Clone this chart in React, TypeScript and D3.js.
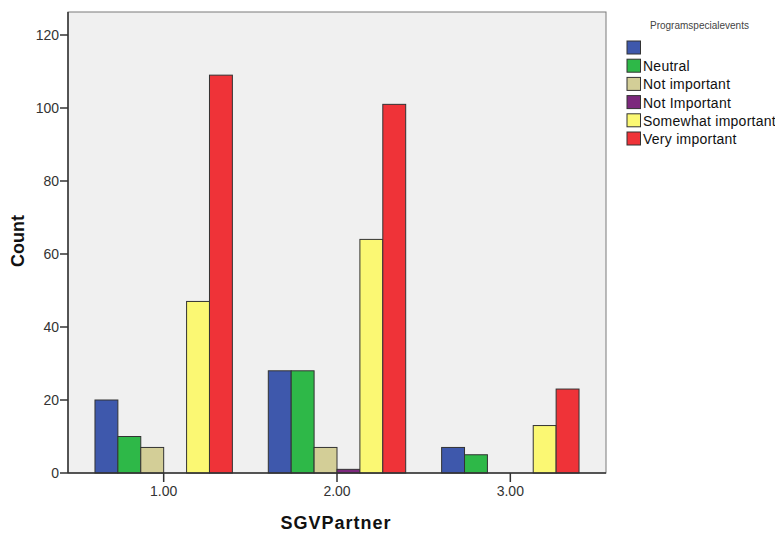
import React from "react";
import * as d3 from "d3";

const categories = ["1.00", "2.00", "3.00"];
const seriesNames = ["", "Neutral", "Not important", "Not Important", "Somewhat important", "Very important"];
const seriesColors = ["#3E58AC", "#2EB848", "#D3CE97", "#7C287D", "#FBF873", "#EF3338"];
// values[series][category]
const blankVals = [20, 28, 7];
const neutralVals = [10, 28, 5];
const notImportantVals = [7, 7, 0];
const notImportant2Vals = [0, 1, 0];
const somewhatVals = [47, 64, 13];
const veryVals = [109, 101, 23];
const seriesValues = [blankVals, neutralVals, notImportantVals, notImportant2Vals, somewhatVals, veryVals];
const yTicks = [0, 20, 40, 60, 80, 100, 120];
const legendTitle = "Programspecialevents";
const xTitle = "SGVPartner";
const yTitle = "Count";

const W = 775, H = 536;
const plot = { left: 68, right: 606, top: 12, bottom: 473 };

export default function App() {
  const x = d3.scaleLinear().domain([0.448, 3.552]).range([plot.left, plot.right]);
  const y = d3.scaleLinear().domain([0, 120]).range([plot.bottom, 35]);
  const barW = 22.9;
  const n = seriesNames.length;
  const font = "'Liberation Sans', Arial, sans-serif";

  return (
    <svg width={W} height={H} style={{ position: "absolute", left: 0, top: 0, background: "#fff" }} fontFamily={font}>
      <rect x={plot.left} y={plot.top} width={plot.right - plot.left} height={plot.bottom - plot.top} fill="#F0F0F0" stroke="#7a7a7a" strokeWidth={1} />
      {categories.map((c, ci) => {
        const cx = x(ci + 1);
        const start = cx - (n * barW) / 2;
        return seriesValues.map((vals, si) => {
          const v = vals[ci];
          if (!v) return null;
          return (
            <rect key={`${ci}-${si}`} x={start + si * barW} y={y(v)} width={barW} height={y(0) - y(v)}
              fill={seriesColors[si]} stroke="#333" strokeWidth={1} />
          );
        });
      })}
      {/* axes */}
      <line x1={plot.left} x2={plot.left} y1={plot.top} y2={plot.bottom} stroke="#333" strokeWidth={1.5} />
      <line x1={plot.left} x2={plot.right} y1={plot.bottom} y2={plot.bottom} stroke="#333" strokeWidth={1.5} />
      {yTicks.map((t) => (
        <g key={t}>
          <line x1={plot.left - 8} x2={plot.left} y1={y(t)} y2={y(t)} stroke="#333" strokeWidth={1.5} />
          <text x={plot.left - 9} y={y(t) + 5} fontSize={14} textAnchor="end" fill="#333">{t}</text>
        </g>
      ))}
      {categories.map((c, ci) => (
        <g key={c}>
          <line x1={x(ci + 1)} x2={x(ci + 1)} y1={plot.bottom} y2={plot.bottom + 9} stroke="#333" strokeWidth={1.5} />
          <text x={x(ci + 1)} y={496} fontSize={14} textAnchor="middle" fill="#333">{c}</text>
        </g>
      ))}
      <text x={336} y={529} fontSize={18} fontWeight="bold" textAnchor="middle" letterSpacing={1} fill="#111">{xTitle}</text>
      <text transform={`translate(24,241) rotate(-90)`} fontSize={18} fontWeight="bold" textAnchor="middle" fill="#111">{yTitle}</text>
      {/* legend */}
      <text x={650} y={29} fontSize={10} fill="#444">{legendTitle}</text>
      {seriesNames.map((s, i) => (
        <g key={i}>
          <rect x={627} y={41 + i * 18.2} width={13.5} height={13} fill={seriesColors[i]} stroke="#333" strokeWidth={1} />
          <text x={643} y={53 + i * 18.2} fontSize={14} letterSpacing={0.25} fill="#111">{s}</text>
        </g>
      ))}
    </svg>
  );
}
